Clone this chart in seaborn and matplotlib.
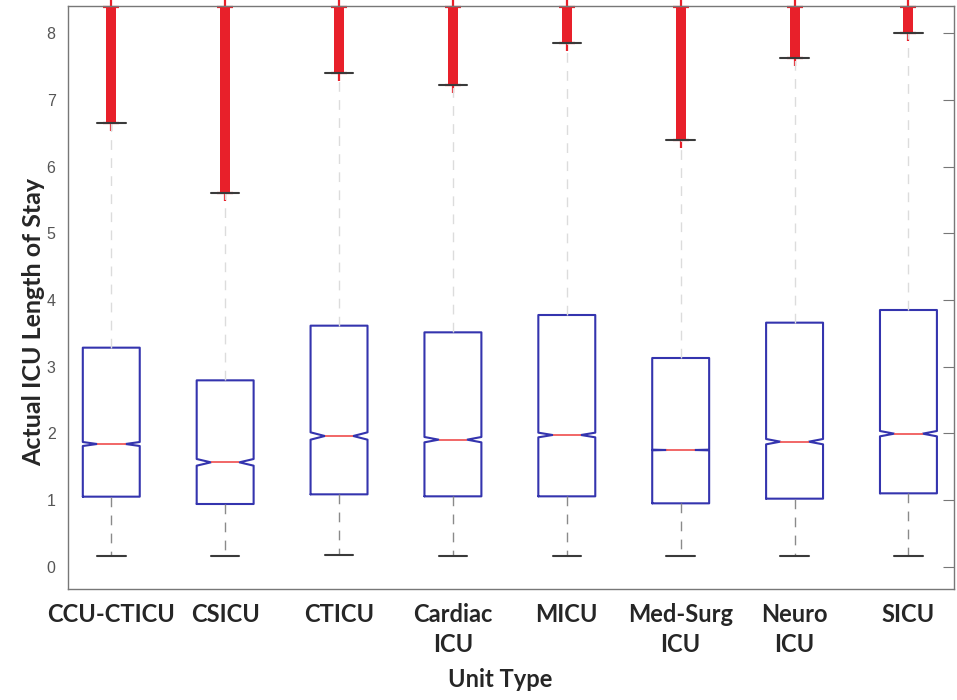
import numpy as np
import matplotlib
matplotlib.use("Agg")
import matplotlib.pyplot as plt
import seaborn as sns

# ------------------------------------------------------------------------
# data (notched box plot per ICU unit type)
# ------------------------------------------------------------------------
units = ["CCU-CTICU", "CSICU", "CTICU", "Cardiac\nICU", "MICU",
         "Med-Surg\nICU", "Neuro\nICU", "SICU"]
q1 = [1.05, 0.94, 1.085, 1.055, 1.055, 0.95, 1.02, 1.10]
medians = [1.84, 1.565, 1.96, 1.905, 1.975, 1.75, 1.875, 1.995]
q3 = [3.285, 2.795, 3.615, 3.515, 3.775, 3.13, 3.66, 3.85]
notch_half = [0.03, 0.05, 0.055, 0.04, 0.035, 0.005, 0.04, 0.04]
whisker_lo = [0.165, 0.165, 0.18, 0.165, 0.165, 0.165, 0.165, 0.165]
whisker_hi = [6.65, 5.605, 7.40, 7.22, 7.85, 6.40, 7.625, 8.0]
# outliers form a solid band from the upper whisker up past the axis top
outlier_top = [8.40, 8.40, 8.40, 8.40, 8.40, 8.40, 8.40, 8.40]
yticks = [0, 1, 2, 3, 4, 5, 6, 7, 8]

BLUE = "#3434ae"
RED = "#e8202a"
MED_RED = "#f05a5a"

sns.set_style("white")
plt.rcParams["font.family"] = ["Liberation Sans", "DejaVu Sans"]

fig = plt.figure(figsize=(9.57, 7.0), dpi=100)
ax = fig.add_axes([68 / 957, 1 - 589 / 700, (954 - 68) / 957, (589 - 6) / 700])

positions = np.arange(1, len(units) + 1)
stats = []
for i, u in enumerate(units):
    stats.append({
        "label": u,
        "q1": q1[i], "med": medians[i], "q3": q3[i],
        "cilo": medians[i] - notch_half[i], "cihi": medians[i] + notch_half[i],
        "whislo": whisker_lo[i], "whishi": whisker_hi[i],
        "fliers": [],
    })

# outlier bands (drawn first so caps sit on top)
ax.vlines(positions, whisker_hi, outlier_top, colors=RED, linewidth=7.2,
          zorder=2, clip_on=False)
ax.plot(positions, whisker_hi, "+", color=RED, ms=11, mew=1.6, zorder=2,
        clip_on=False)
ax.plot(positions, outlier_top, "+", color=RED, ms=11, mew=1.6, zorder=2,
        clip_on=False)

bp = ax.bxp(stats, positions=positions, widths=0.5, shownotches=True,
            showfliers=False, patch_artist=False,
            boxprops=dict(color=BLUE, linewidth=1.5),
            medianprops=dict(color=MED_RED, linewidth=1.3),
            whiskerprops=dict(color="#8a8a8a", linewidth=1.0, linestyle=(0, (7, 6))),
            capprops=dict(color="#3a3a3a", linewidth=1.5))
for k, w in enumerate(bp["whiskers"]):
    if k % 2 == 1:
        w.set_color("#dcdcdc")
for c in bp["caps"]:
    c.set_zorder(4)

ax.set_xlim(0.62, 8.40)
ax.set_ylim(-0.335, 8.41)
ax.set_yticks(yticks)
ax.set_xticks(positions)
ax.set_xticklabels(units, fontsize=17, fontweight="bold", family="Lato",
                   linespacing=1.35)
for lab in ax.get_yticklabels():
    lab.set_fontsize(11.5)
    lab.set_color("#555555")

ax.tick_params(axis="both", direction="in", length=8, width=0.8, color="#777777",
               top=True, right=True)
ax.tick_params(axis="x", pad=10)
ax.tick_params(axis="y", pad=9)
for s in ax.spines.values():
    s.set_color("#777777")
    s.set_linewidth(1.0)

ax.set_xlabel("Unit Type", fontsize=17, fontweight="bold", family="Lato")
ax.set_ylabel("Actual ICU Length of Stay", fontsize=18, fontweight="bold",
              family="Lato")
ax.xaxis.set_label_coords((500 - 68) / 886, (589 - 668) / 583)
ax.yaxis.set_label_coords((45 - 68) / 886, (589 - 322) / 583)

fig.savefig("out.png", dpi=100)
